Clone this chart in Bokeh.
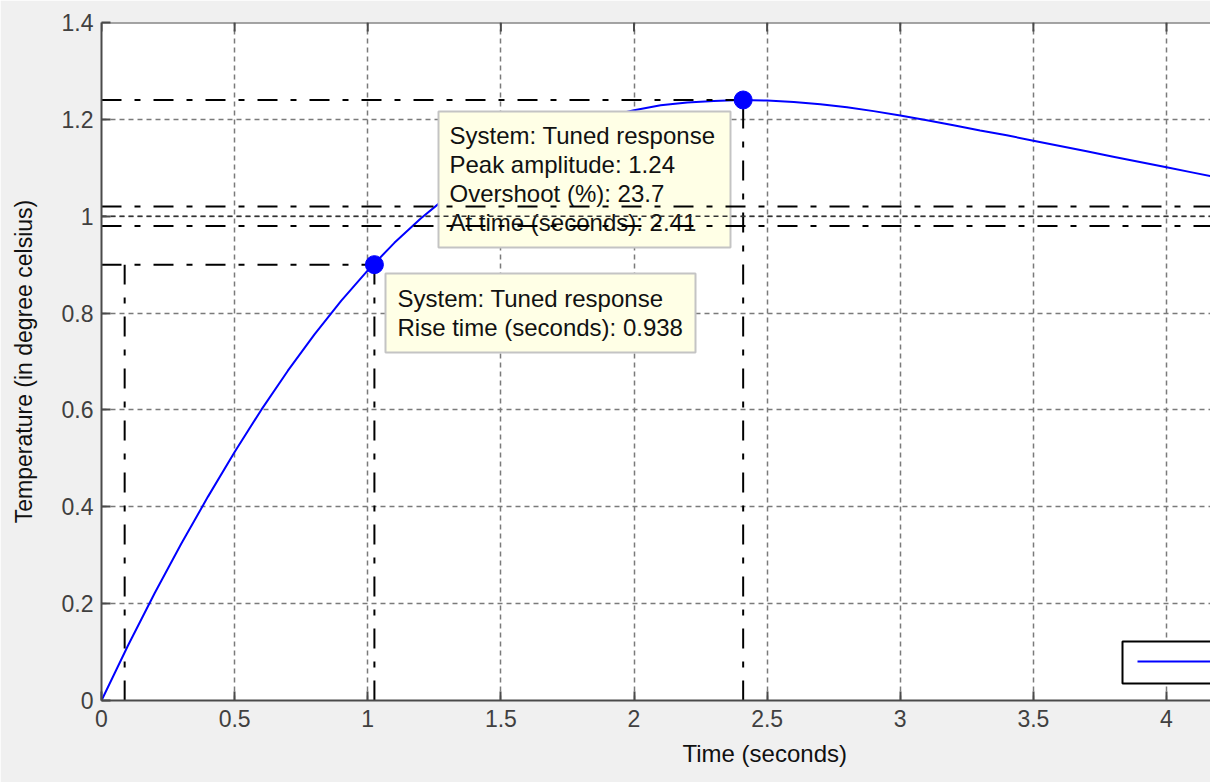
import math
from bokeh.plotting import figure
from bokeh.models import Range1d, FixedTicker, Span, Title
from bokeh.embed import file_html
from bokeh.resources import INLINE
from bokeh.core.properties import value

# ---------------- data ----------------
time_s = [0.0, 0.1, 0.2, 0.3, 0.4, 0.5, 0.6, 0.7, 0.8, 0.9,
          1.0, 1.1, 1.2, 1.3, 1.4, 1.5, 1.6, 1.7, 1.8, 1.9,
          2.0, 2.1, 2.2, 2.3, 2.4, 2.5, 2.6, 2.7, 2.8, 2.9,
          3.0, 3.1, 3.2, 3.3, 3.4, 3.5, 3.6, 3.7, 3.8, 3.9,
          4.0, 4.1, 4.2]
temperature = [0.000, 0.114, 0.222, 0.324, 0.421, 0.513, 0.600, 0.681, 0.756, 0.825,
               0.888, 0.945, 0.996, 1.041, 1.080, 1.114, 1.143, 1.168, 1.189, 1.206,
               1.219, 1.229, 1.235, 1.238, 1.240, 1.239, 1.236, 1.231, 1.225, 1.217,
               1.208, 1.198, 1.188, 1.177, 1.167, 1.156, 1.145, 1.134, 1.123, 1.112,
               1.101, 1.090, 1.079]

x_ticks = [0, 0.5, 1, 1.5, 2, 2.5, 3, 3.5, 4, 4.5, 5]
x_tick_labels = ["0", "0.5", "1", "1.5", "2", "2.5", "3", "3.5", "4", "4.5", "5"]
y_ticks = [0, 0.2, 0.4, 0.6, 0.8, 1.0, 1.2, 1.4]
y_tick_labels = ["0", "0.2", "0.4", "0.6", "0.8", "1", "1.2", "1.4"]

peak_time = 2.41
peak_amplitude = 1.24
rise_start = 0.087
rise_end = 1.025
rise_level = 0.9
final_value = 1.0
settle_band = 0.02

peak_lines = ["System: Tuned response", "Peak amplitude: 1.24",
              "Overshoot (%): 23.7", "At time (seconds): 2.41"]
rise_lines = ["System: Tuned response", "Rise time (seconds): 0.938"]
x_label = "Time (seconds)"
y_label = "Temperature (in degree celsius)"

# ---------------- layout constants (pixels) ----------------
W, H = 1210, 782
LEFT, TOP = 101, 22
FRAME_W, FRAME_H = W - LEFT, 678
BOTTOM = H - TOP - FRAME_H
PX_PER_X = 266.25
PX_PER_Y = FRAME_H / 1.4
X_END = FRAME_W / PX_PER_X

# page pixel -> data helpers (frame left at px 101, frame bottom at px 700)
def dx(px):
    return (px - LEFT) / PX_PER_X

def dy(py):
    return (TOP + FRAME_H - py) / PX_PER_Y

FONT = value("Liberation Sans")
AX_COL = "#4a4a4a"
TICK_COL = "#404040"

p = figure(width=W, height=H, output_backend="svg", toolbar_location=None,
           x_range=Range1d(0, X_END), y_range=Range1d(0, 1.4),
           min_border_left=LEFT, min_border_right=0, min_border_top=TOP,
           min_border_bottom=BOTTOM)
p.background_fill_color = "white"
p.border_fill_color = "#f0f0f0"
p.outline_line_color = None

for ax in (p.xaxis[0], p.yaxis[0]):
    ax.axis_line_color = AX_COL
    ax.axis_line_width = 2
    ax.major_tick_line_color = AX_COL
    ax.major_tick_line_width = 2
    ax.major_tick_in = 9
    ax.major_tick_out = 0
    ax.minor_tick_line_color = None
    ax.major_label_text_font = "Liberation Sans"
    ax.major_label_text_font_size = "23px"
    ax.major_label_text_color = TICK_COL

p.xaxis.ticker = FixedTicker(ticks=x_ticks)
p.yaxis.ticker = FixedTicker(ticks=y_ticks)
p.xaxis.major_label_overrides = dict(zip(x_ticks, x_tick_labels))
p.yaxis.major_label_overrides = dict(zip(y_ticks, y_tick_labels))
p.xaxis.major_label_standoff = 9
p.yaxis.major_label_standoff = 8

p.yaxis.axis_label = y_label
p.yaxis.axis_label_text_font = "Liberation Sans"
p.yaxis.axis_label_text_font_size = "23px"
p.yaxis.axis_label_text_font_style = "normal"
p.yaxis.axis_label_text_color = "#111111"
p.yaxis.axis_label_standoff = 22

p.add_layout(Title(text=x_label, align="left", offset=581, text_font="Liberation Sans",
                   text_font_size="24px", text_font_style="normal",
                   text_color="#111111", standoff=16), "below")

# top border of the axes box with inward ticks
p.add_layout(Span(location=1.4, dimension="width", line_color=AX_COL, line_width=2))
p.segment(x0=x_ticks, y0=[1.4] * len(x_ticks), x1=x_ticks,
          y1=[1.4 - 9 / PX_PER_Y] * len(x_ticks), line_color=AX_COL, line_width=2)

for g in (p.xgrid[0], p.ygrid[0]):
    g.grid_line_color = "#7a7a7a"
    g.grid_line_dash = "5 4"
    g.grid_line_width = 1.5
p.xgrid.ticker = FixedTicker(ticks=x_ticks)
p.ygrid.ticker = FixedTicker(ticks=y_ticks)

DASHDOT = "20 13 6 13"

# response curve
p.line(time_s, temperature, line_color="#0000ff", line_width=2)

# characteristic lines (peak and rise)
p.line([0, peak_time], [peak_amplitude, peak_amplitude], line_color="black", line_width=2, line_dash=DASHDOT)
p.line([peak_time, peak_time], [0, peak_amplitude], line_color="black", line_width=2, line_dash=DASHDOT)
p.line([0, rise_end], [rise_level, rise_level], line_color="black", line_width=2, line_dash=DASHDOT)
p.line([rise_start, rise_start], [0, rise_level], line_color="black", line_width=2, line_dash=DASHDOT)
p.line([rise_end, rise_end], [0, rise_level], line_color="black", line_width=2, line_dash=DASHDOT)

# data tip boxes
BOX_FILL = "#ffffe6"
BOX_LINE = "#c4c4c4"
p.quad(left=[dx(438)], right=[dx(730)], top=[dy(111)], bottom=[dy(247)],
       fill_color=BOX_FILL, line_color=BOX_LINE, line_width=2)
p.quad(left=[dx(385)], right=[dx(695)], top=[dy(273)], bottom=[dy(352)],
       fill_color=BOX_FILL, line_color=BOX_LINE, line_width=2)

LINE_H = 29
p.text(x=[dx(449)] * len(peak_lines),
       y=[dy(135 + i * LINE_H) for i in range(len(peak_lines))],
       text=peak_lines, text_font=FONT, text_font_size="24px",
       text_color="#111111", text_baseline="middle", text_align="left")
p.text(x=[dx(397)] * len(rise_lines),
       y=[dy(298 + i * LINE_H) for i in range(len(rise_lines))],
       text=rise_lines, text_font=FONT, text_font_size="24px",
       text_color="#111111", text_baseline="middle", text_align="left")

# settling band and final value lines (drawn over the tip box)
p.line([0, X_END], [final_value + settle_band] * 2, line_color="black", line_width=2, line_dash=DASHDOT)
p.line([0, X_END], [final_value - settle_band] * 2, line_color="black", line_width=2, line_dash=DASHDOT)
p.line([0, X_END], [final_value] * 2, line_color="#333333", line_width=1.5, line_dash="5 4")

# markers
p.scatter([rise_end, peak_time], [rise_level, peak_amplitude], size=18,
          fill_color="#0000ff", line_color="#0000ff")

# legend (cut off at right edge)
p.quad(left=[dx(1122)], right=[dx(1300)], top=[dy(641)], bottom=[dy(683)],
       fill_color="white", line_color="black", line_width=2)
p.line([dx(1137), dx(1300)], [dy(661)] * 2, line_color="#0000ff", line_width=2)

open("out.html", "w").write(file_html(p, INLINE))
